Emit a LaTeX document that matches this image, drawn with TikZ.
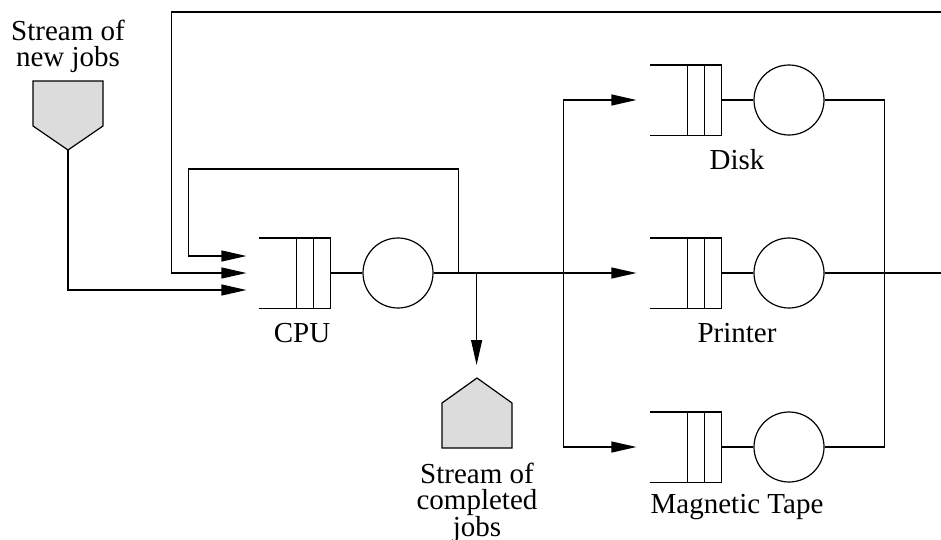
\documentclass[tikz,border=0pt]{standalone}
\usepackage{fontspec}
\setmainfont{Liberation Serif}
\usetikzlibrary{arrows.meta}
\definecolor{jobgray}{RGB}{220,220,220}

\begin{document}
\begin{tikzpicture}[x=1pt,y=-1pt,line width=1.2pt,
  font=\fontsize{29}{26}\selectfont,
  buffer/.style={minimum width=70pt,minimum height=69pt,inner sep=0pt},
  server/.style={circle,draw,minimum size=70pt,inner sep=0pt},
  flow/.style={-{Triangle[length=25pt,width=11pt]}},
  caption/.style={align=center,inner sep=0pt}]
\clip (0,0) rectangle (941,539);

% queues and servers
\foreach \n/\x/\y/\lx/\lab in {cpu/295/273/302/CPU,disk/686/100/737/Disk,
    printer/686/273/737/Printer,tape/686/447/737/Magnetic Tape}{
  \node[buffer] (\n-buf) at (\x,\y) {};
  \node[server] (\n) at (\x+103,\y) {};
  \node[caption] (\n-lbl) at (\lx,\y+60) {\lab};
  \draw (\n-buf.north west) -- (\n-buf.north east) -- (\n-buf.south east) -- (\n-buf.south west);
  \foreach \d in {17,34}
    \draw ([xshift=-\d pt]\n-buf.north east) -- ([xshift=-\d pt]\n-buf.south east);
  \draw (\n-buf.east) -- (\n.west);
}

% sources and sinks
\draw[fill=jobgray] (33,81) -- (103,81) -- (103,126) -- (68,150) -- (33,126) -- cycle;
\coordinate (new) at (68,150);
\node[caption] (new-lbl) at (68,46) {Stream of\\new jobs};
\draw[fill=jobgray] (442,448) -- (442,403) -- (477,378) -- (512,403) -- (512,448) -- cycle;
\node[caption] (done-lbl) at (477,503) {Stream of\\completed\\jobs};

\coordinate (cpu-in1) at ([xshift=-13pt,yshift=17pt]cpu-buf.west);
\coordinate (cpu-in2) at ([xshift=-13pt]cpu-buf.west);
\coordinate (cpu-in3) at ([xshift=-13pt,yshift=-17pt]cpu-buf.west);
\coordinate (loop) at ([xshift=25pt]cpu.east);
\coordinate (split) at ([xshift=43pt]cpu.east);
\coordinate (fork) at ([xshift=130pt]cpu.east);
\coordinate (back) at (960,12);

\draw[flow] (new) |- (cpu-in3);
\draw (cpu.east) -- (fork);
\draw[flow] (loop) |- ([xshift=-58pt,yshift=87pt]cpu-in1) |- (cpu-in1);
\draw[flow] (split) -- ++(0,92);
\draw[flow] (fork) -- ([xshift=-14pt]printer-buf.west);
\draw[flow] (fork) |- ([xshift=-14pt]disk-buf.west);
\draw[flow] (fork) |- ([xshift=-14pt]tape-buf.west);
\draw (disk.east) -- ++(60,0) |- (tape.east);
\draw[flow] (printer.east) -| (back) -| ([xshift=-75pt]cpu-in2) -- (cpu-in2);
\end{tikzpicture}
\end{document}
